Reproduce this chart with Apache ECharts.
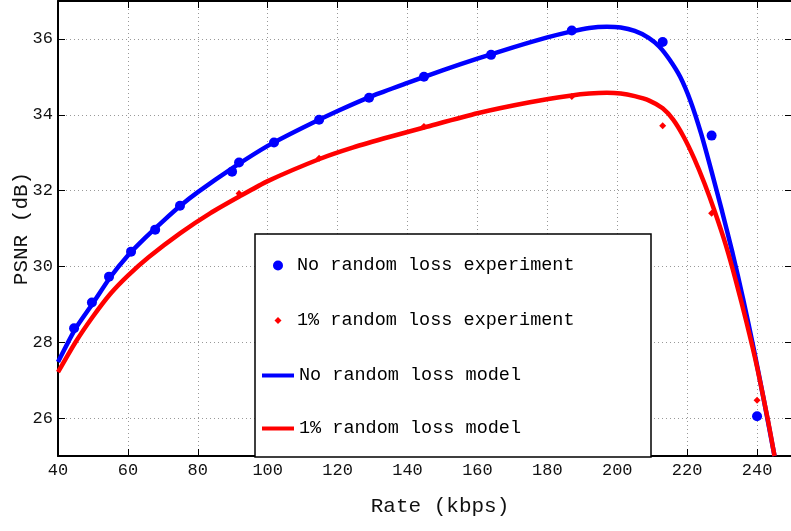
<!DOCTYPE html>
<html>
<head>
<meta charset="utf-8">
<title>PSNR vs Rate</title>
<script src="https://cdn.jsdelivr.net/npm/echarts@6/dist/echarts.min.js"></script>
<style>
	html, body { margin: 0; padding: 0; background: #fff; }
	#chart { width: 791px; height: 531px; }
</style>
</head>
<body>
<div id="chart"></div>
<script>
// experiment points [rate, psnr]
var noLossExp = [
	[44.6, 28.37], [49.7, 29.05], [54.6, 29.73], [60.9, 30.39], [67.8, 30.97],
	[74.9, 31.6], [89.8, 32.5], [91.8, 32.74], [101.8, 33.27], [114.7, 33.87],
	[129, 34.45], [144.7, 35.0], [163.9, 35.58], [187, 36.22], [213, 35.92],
	[227, 33.45], [240, 26.05]
]
var lossExp = [
	[91.8, 31.92], [114.7, 32.85], [144.7, 33.69], [187, 34.48],
	[213, 33.71], [227, 31.4], [240, 26.47]
]
// model curves
var noLossModel = [
	[40, 27.48], [45, 28.36], [50, 29.03], [55, 29.72], [60, 30.29], [65, 30.76],
	[70, 31.19], [75, 31.6], [80, 31.96], [90, 32.6], [100, 33.18], [110, 33.66],
	[120, 34.1], [130, 34.5], [140, 34.84], [150, 35.17], [160, 35.48], [170, 35.77],
	[180, 36.04], [187, 36.2], [192, 36.29], [197, 36.32], [201, 36.3], [205, 36.21],
	[209, 36.03], [212, 35.8], [215, 35.45], [218, 35.0], [221, 34.35], [224, 33.5],
	[227, 32.5], [230, 31.45], [233, 30.35], [236, 29.15], [239, 27.85],
	[242, 26.45], [245, 25.0]
]
var lossModel = [
	[40, 27.21], [45, 28.0], [50, 28.68], [55, 29.28], [60, 29.76], [66, 30.25],
	[75, 30.88], [83.5, 31.4], [92, 31.85], [100, 32.25], [115, 32.84], [124.5, 33.14],
	[135, 33.42], [145, 33.67], [160, 34.04], [175, 34.33], [187, 34.51], [192, 34.56],
	[197, 34.58], [201, 34.56], [205, 34.49], [209, 34.38], [213, 34.17], [216, 33.87],
	[219, 33.42], [222, 32.85], [225, 32.18], [228, 31.42], [231, 30.58], [234, 29.6],
	[237, 28.52], [240, 27.35], [243, 26.0], [245, 25.0]
]
var seriesNames = [
	'No random loss experiment',
	'1% random loss experiment',
	'No random loss model',
	'1% random loss model'
]
var xRange = [40, 250]
var yRange = [25, 37]

function _chartPsnr(id) {
	var dom = document.getElementById(id)
	if (!dom) return
	var mono = 'Liberation Mono'
	var gridLine = { show: true, lineStyle: { color: '#999', width: 1, type: [1, 3] } }
	var frameLine = { show: true, lineStyle: { color: '#000', width: 2 } }
	var tick = { show: true, inside: true, length: 7, lineStyle: { color: '#000', width: 1 } }
	var tickFont = { color: '#111', fontFamily: mono, fontSize: 17 }

	// one legend per row so each icon can have its own size
	function legendRow(name, top, icon, w, h, left, pad) {
		return {
			data: [{ name: name, icon: icon }],
			top: top,
			left: left,
			padding: 0,
			itemWidth: w,
			itemHeight: h,
			selectedMode: false,
			z: 10,
			textStyle: { color: '#000', fontFamily: mono, fontSize: 18.5, padding: [0, 0, 0, pad] }
		}
	}

	var option = {
		backgroundColor: '#fff',
		animation: false,
		grid: { left: 58, top: 1, width: 734, height: 455, containLabel: false, outerBoundsMode: 'none' },
		graphic: [
			{
				type: 'rect',
				z: 5,
				shape: { x: 255, y: 234, width: 396, height: 223 },
				style: { fill: '#fff', stroke: '#000', lineWidth: 1.5 }
			}
		],
		legend: [
			legendRow(seriesNames[0], 256, 'circle', 10, 10, 273, 9),
			legendRow(seriesNames[1], 311, 'diamond', 7, 7, 274.5, 10.5),
			legendRow(seriesNames[2], 366, 'rect', 32, 4, 262, 0),
			legendRow(seriesNames[3], 419, 'rect', 32, 4, 262, 0)
		],
		xAxis: [
			{
				type: 'value',
				min: xRange[0],
				max: xRange[1],
				interval: 20,
				name: 'Rate (kbps)',
				nameLocation: 'middle',
				nameGap: 40,
				nameMoveOverlap: false,
				nameTextStyle: { color: '#111', fontFamily: mono, fontSize: 21, padding: [0, 0, 0, 30] },
				axisLine: frameLine,
				axisTick: tick,
				axisLabel: Object.assign({ margin: 6, showMinLabel: true, showMaxLabel: false }, tickFont),
				splitLine: gridLine
			},
			{
				type: 'value',
				position: 'top',
				min: xRange[0],
				max: xRange[1],
				interval: 20,
				axisLine: frameLine,
				axisTick: tick,
				axisLabel: { show: false },
				splitLine: { show: false }
			}
		],
		yAxis: [
			{
				type: 'value',
				min: yRange[0],
				max: yRange[1],
				splitNumber: 6,
				name: 'PSNR (dB)',
				nameLocation: 'middle',
				nameGap: 26,
				nameMoveOverlap: false,
				nameTextStyle: { color: '#111', fontFamily: mono, fontSize: 21 },
				axisLine: frameLine,
				axisTick: tick,
				axisLabel: Object.assign({ margin: 5, showMinLabel: false, showMaxLabel: false }, tickFont),
				splitLine: gridLine
			},
			{
				type: 'value',
				position: 'right',
				min: yRange[0],
				max: yRange[1],
				splitNumber: 6,
				axisLine: frameLine,
				axisTick: tick,
				axisLabel: { show: false },
				splitLine: { show: false }
			}
		],
		series: [
			{
				name: seriesNames[0],
				type: 'scatter',
				symbol: 'circle',
				symbolSize: 10,
				itemStyle: { color: '#0000ff', opacity: 1 },
				data: noLossExp,
				z: 2
			},
			{
				name: seriesNames[1],
				type: 'scatter',
				symbol: 'diamond',
				symbolSize: 7,
				itemStyle: { color: '#ff0000', opacity: 1 },
				data: lossExp,
				z: 2
			},
			{
				name: seriesNames[2],
				type: 'line',
				showSymbol: false,
				symbol: 'none',
				smooth: 0.2,
				itemStyle: { color: '#0000ff' },
				lineStyle: { color: '#0000ff', width: 4.5 },
				data: noLossModel,
				z: 3
			},
			{
				name: seriesNames[3],
				type: 'line',
				showSymbol: false,
				symbol: 'none',
				smooth: 0.2,
				itemStyle: { color: '#ff0000' },
				lineStyle: { color: '#ff0000', width: 4.5 },
				data: lossModel,
				z: 4
			}
		]
	}
	var myChart = echarts.init(dom)
	myChart.setOption(option)
	return myChart
}

_chartPsnr('chart')
</script>
</body>
</html>
